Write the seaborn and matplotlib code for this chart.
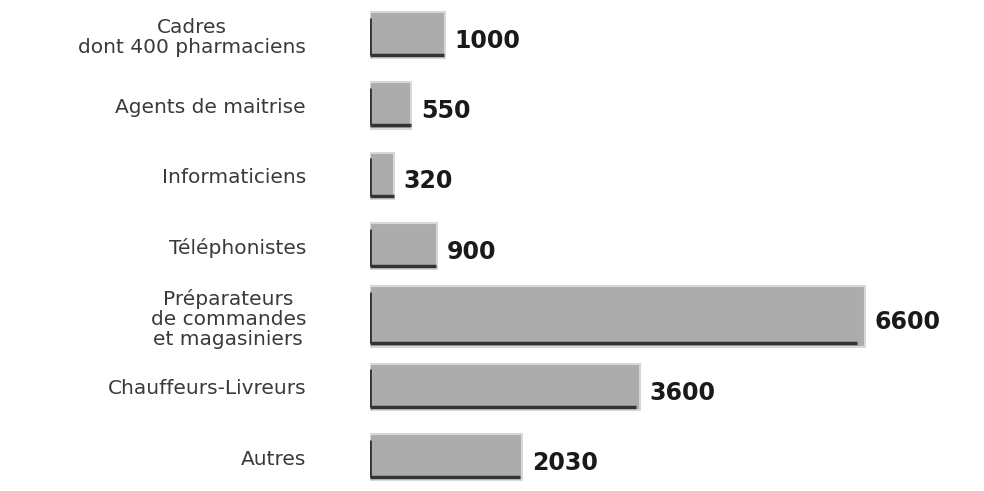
import pandas as pd
import numpy as np
import matplotlib.pyplot as plt
import seaborn as sns

sns.set_style("white")
plt.rcParams['font.family'] = ['DejaVu Sans']

# data
categories = ["Cadres\ndont 400 pharmaciens", "Agents de maitrise", "Informaticiens",
              "Téléphonistes", "Préparateurs\nde commandes\net magasiniers",
              "Chauffeurs-Livreurs", "Autres"]
effectifs = [1000, 550, 320, 900, 6600, 3600, 2030]
value_labels = ["1000", "550", "320", "900", "6600", "3600", "2030"]

df = pd.DataFrame({"cat": categories, "n": effectifs})

fig = plt.figure(figsize=(9.84, 4.91), dpi=100)
ax = fig.add_axes([0.376, 0.0, 0.624, 1.0])

sns.barplot(data=df, y="cat", x="n", order=categories, orient="h",
            color="#acacac", saturation=1, width=0.66, ax=ax,
            edgecolor="#d8d8d8", linewidth=1.5)

# the big bar is a bit thicker in the original
big = ax.patches[4]
big.set_y(big.get_y() - 0.1)
big.set_height(big.get_height() + 0.2)

# dark left and bottom edges like the original
for p in ax.patches:
    x0, y0 = p.get_x(), p.get_y()
    w, h = p.get_width(), p.get_height()
    ax.plot([x0, x0], [y0 + 0.08, y0 + h - 0.05], color="#333333", lw=2, solid_capstyle="butt")
    ax.plot([x0, x0 + w * 0.985], [y0 + h - 0.05, y0 + h - 0.05], color="#333333", lw=2.5,
            solid_capstyle="butt")

for i, v in enumerate(effectifs):
    ax.text(v + 130, i + 0.08, value_labels[i], fontsize=17, fontweight="bold",
            ha="left", va="center", color="#1a1a1a")

ax.set_xlim(0, 8190)
ax.set_ylim(6.48, -0.5)
ax.set_xlabel("")
ax.set_ylabel("")
ax.set_xticks([])
ax.tick_params(axis="y", length=0, pad=46, labelsize=14.5, labelcolor="#3a3a3a")
for t in ax.get_yticklabels():
    t.set_multialignment("center")
    t.set_linespacing(1.05)
sns.despine(ax=ax, left=True, bottom=True)

fig.savefig("out.png", dpi=100)
